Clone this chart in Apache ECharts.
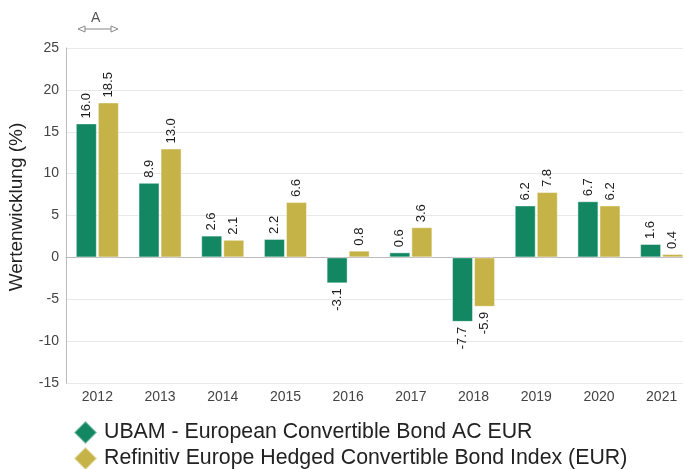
<!DOCTYPE html>
<html>
<head>
<meta charset="utf-8">
<script src="https://cdn.jsdelivr.net/npm/echarts@6/dist/echarts.min.js"></script>
<style>
  html, body { margin: 0; padding: 0; background: #fff; }
  #main { width: 683px; height: 469px; }
</style>
</head>
<body>
<div id="main"></div>
<script>
var years = ['2012', '2013', '2014', '2015', '2016', '2017', '2018', '2019', '2020', '2021'];
var fundValues = [16.0, 8.9, 2.6, 2.2, -3.1, 0.6, -7.7, 6.2, 6.7, 1.6];
var indexValues = [18.5, 13.0, 2.1, 6.6, 0.8, 3.6, -5.9, 7.8, 6.2, 0.4];
var fundName = 'UBAM - European Convertible Bond AC EUR';
var indexName = 'Refinitiv Europe Hedged Convertible Bond Index (EUR)';
var yTitle = 'Wertenwicklung (%)';

var font = 'Liberation Sans, Arial, sans-serif';

// negative bars get their label under the bar
function withLabels(values) {
  return values.map(function (v) {
    var neg = v < 0;
    return {
      value: v,
      label: {
        position: neg ? 'bottom' : 'top',
        align: neg ? 'right' : 'left'
      }
    };
  });
}

function barSeries(name, values, color) {
  return {
    name: name,
    type: 'bar',
    barWidth: 21,
    barGap: '5%',
    data: withLabels(values),
    itemStyle: { color: color, borderColor: 'rgba(255,255,255,0.45)', borderWidth: 1 },
    label: {
      show: true,
      rotate: 90,
      distance: 5,
      verticalAlign: 'middle',
      color: '#1a1a1a',
      fontSize: 13,
      fontFamily: font,
      formatter: function (p) { return p.value.toFixed(1); }
    }
  };
}

function legendRow(name, top) {
  return {
    left: 73,
    top: top,
    padding: 0,
    itemWidth: 23,
    itemHeight: 23,
    icon: 'diamond',
    textStyle: { color: '#222', fontSize: 21.3, fontFamily: font, padding: [0, 0, 0, 2] },
    data: [name]
  };
}

var myChart = echarts.init(document.getElementById('main'));
myChart.setOption({
  animation: false,
  grid: { left: 66, top: 48, right: -10, bottom: 86, outerBoundsMode: 'none' },
  legend: [legendRow(fundName, 420), legendRow(indexName, 446)],
  xAxis: {
    type: 'category',
    data: years,
    axisTick: { show: false },
    axisLine: { lineStyle: { color: '#bbb' } },
    axisLabel: { color: '#444', fontSize: 14, fontFamily: font, margin: 7 }
  },
  yAxis: {
    type: 'value',
    min: -15,
    max: 25,
    interval: 5,
    axisLine: { show: true, lineStyle: { color: '#bbb' } },
    axisLabel: { color: '#444', fontSize: 14, fontFamily: font, margin: 7 },
    splitLine: { lineStyle: { color: '#e8e8e8' } }
  },
  graphic: [
    {
      type: 'text',
      x: 17, y: 207,
      rotation: Math.PI / 2,
      style: { text: yTitle, fill: '#222', font: '19px ' + font, align: 'center', verticalAlign: 'middle' }
    },
    {
      type: 'text',
      left: 91, top: 11,
      style: { text: 'A', fill: '#555', font: '14px ' + font }
    },
    {
      type: 'line',
      shape: { x1: 85, y1: 29, x2: 111, y2: 29 },
      style: { stroke: '#888', lineWidth: 1 }
    },
    {
      type: 'polygon',
      shape: { points: [[78, 29], [85, 26], [85, 32]] },
      style: { fill: '#fff', stroke: '#888', lineWidth: 1 }
    },
    {
      type: 'polygon',
      shape: { points: [[118, 29], [111, 26], [111, 32]] },
      style: { fill: '#fff', stroke: '#888', lineWidth: 1 }
    }
  ],
  series: [
    barSeries(fundName, fundValues, '#138762'),
    barSeries(indexName, indexValues, '#c6b347')
  ]
});
</script>
</body>
</html>
